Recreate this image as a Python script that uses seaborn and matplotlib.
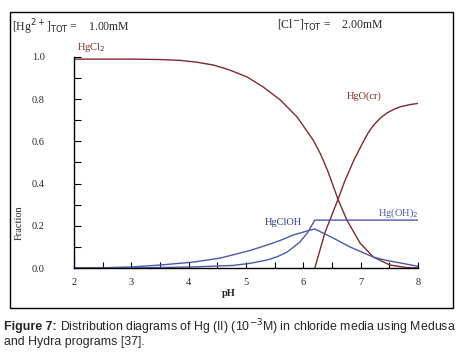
import matplotlib
matplotlib.use("Agg")
import matplotlib.pyplot as plt
import matplotlib.patches as mpatches
from matplotlib.ticker import MultipleLocator
import seaborn as sns
import pandas as pd

# ---- data ----
ph_hgcl2 = [2.0, 3.0, 3.5, 3.85, 4.15, 4.43, 4.72, 5.02, 5.30, 5.60, 5.89, 6.17, 6.30, 6.42, 6.61, 6.76, 6.99, 7.22, 7.51, 7.81, 8.0]
fr_hgcl2 = [0.99, 0.99, 0.988, 0.984, 0.975, 0.962, 0.938, 0.905, 0.858, 0.796, 0.716, 0.607, 0.54, 0.464, 0.322, 0.227, 0.118, 0.052, 0.014, 0.002, 0.0]

ph_hgo = [6.2, 6.38, 6.6, 6.72, 6.88, 7.03, 7.13, 7.22, 7.34, 7.46, 7.58, 7.69, 7.85, 8.0]
fr_hgo = [0.0, 0.17, 0.322, 0.41, 0.51, 0.59, 0.64, 0.675, 0.71, 0.735, 0.752, 0.764, 0.774, 0.78]

ph_hgcloh = [2.0, 2.5, 3.0, 3.5, 4.08, 4.55, 4.77, 5.07, 5.37, 5.60, 5.82, 6.02, 6.2, 6.52, 6.82, 7.22, 7.45, 7.69, 8.0]
fr_hgcloh = [0.0, 0.001, 0.005, 0.014, 0.028, 0.047, 0.062, 0.083, 0.109, 0.131, 0.156, 0.172, 0.185, 0.142, 0.099, 0.052, 0.036, 0.024, 0.008]

ph_hgoh2 = [2.0, 3.0, 4.08, 4.55, 4.77, 5.07, 5.37, 5.55, 5.72, 5.94, 6.08, 6.2, 8.0]
fr_hgoh2 = [0.0, 0.0, 0.005, 0.01, 0.012, 0.022, 0.038, 0.054, 0.076, 0.123, 0.17, 0.227, 0.227]

x_ticks = [2, 3, 4, 5, 6, 7, 8]
y_ticks = [0.0, 0.2, 0.4, 0.6, 0.8, 1.0]
y_ticklabels = ["0.0", "0.2", "0.4", "0.6", "0.8", "1.0"]

RED = "#7e2a2e"
BLUE = "#4a5ba6"

sns.set_style("ticks")
plt.rcParams["font.family"] = ["Liberation Serif", "DejaVu Serif"]

fig = plt.figure(figsize=(4.64, 3.58), dpi=100)
ax = fig.add_axes([74 / 464, 1 - 268 / 358, (418 - 74) / 464, (268 - 57) / 358])

series = [
    (ph_hgcl2, fr_hgcl2, RED),
    (ph_hgo, fr_hgo, RED),
    (ph_hgcloh, fr_hgcloh, BLUE),
    (ph_hgoh2, fr_hgoh2, BLUE),
]
for xs, ys, c in series:
    df = pd.DataFrame({"pH": xs, "Fraction": ys})
    sns.lineplot(data=df, x="pH", y="Fraction", ax=ax, color=c, lw=1.0,
                 sort=False, estimator=None)

ax.set_xlim(2, 8)
ax.set_ylim(0, 1.0)
sns.despine(ax=ax)
for s in ["left", "bottom"]:
    ax.spines[s].set_linewidth(1.0)
    ax.spines[s].set_color("black")

ax.set_xticks(x_ticks)
ax.set_xticklabels([str(v) for v in x_ticks])
ax.xaxis.set_minor_locator(MultipleLocator(0.5))
ax.set_yticks(y_ticks)
ax.set_yticklabels(y_ticklabels)
ax.yaxis.set_minor_locator(MultipleLocator(0.1))
ax.tick_params(axis="both", which="both", direction="in", length=4, width=0.8, color="black")
ax.tick_params(axis="y", which="both", length=5)
ax.tick_params(axis="y", which="major", pad=21, labelsize=7.5)
ax.tick_params(axis="x", which="major", pad=7, labelsize=7.5)
ax.set_xlabel("")
ax.set_ylabel("")

# species labels
ax.text(2.05, 1.012, "HgCl$_2$", color=RED, fontsize=7.5, ha="left", va="bottom")
ax.text(7.06, 0.815, "HgO(cr)", color=RED, fontsize=7.5, ha="center", va="center")
ax.text(5.65, 0.218, "HgClOH", color="#2e3a80", fontsize=7.5, ha="center", va="center")
ax.text(7.65, 0.258, "Hg(OH)$_2$", color=BLUE, fontsize=7.5, ha="center", va="center")

# axis titles and header
fig.text(229 / 464, 1 - 294 / 358, "pH", fontsize=7.5, fontweight="bold", ha="center", va="center")
fig.text(19 / 464, 1 - 223 / 358, "Fraction", fontsize=7.5, rotation=90, ha="center", va="center")
fig.text(12 / 464, 1 - 27 / 358, "[Hg$^{2+}$]$_{\\rm TOT}$ =    1.00mM", fontsize=8.5, ha="left", va="center")
fig.text(277 / 464, 1 - 25 / 358, "[Cl$^{-}$]$_{\\rm TOT}$ =    2.00mM", fontsize=8.5, ha="left", va="center")

# outer frame
fig.patches.append(mpatches.Rectangle((10 / 464, 1 - 308 / 358), 443 / 464, 296 / 358,
                                      transform=fig.transFigure, fill=False,
                                      edgecolor="black", lw=1.0))

# caption, fitted to the reference width (x 4..460 px)
cap_font = ["Liberation Sans", "DejaVu Sans"]
line1_bold = "Figure 7:"
line1_rest = "Distribution diagrams of Hg (II) (10$^{-3}$M) in chloride media using Medusa"
line2 = "and Hydra programs [37]."

fs = 10.0
renderer = fig.canvas.get_renderer()
for _ in range(3):
    ta = fig.text(0, 0, line1_bold, fontsize=fs, fontweight="bold", family=cap_font)
    tb = fig.text(0, 0, line1_rest, fontsize=fs, family=cap_font)
    w = ta.get_window_extent(renderer).width + 3 + tb.get_window_extent(renderer).width
    ta.remove(); tb.remove()
    fs = fs * 455 / w

t1 = fig.text(4 / 464, 1 - 327 / 358, line1_bold, fontsize=fs, fontweight="bold",
              family=cap_font, ha="left", va="center")
bb = t1.get_window_extent(renderer)
fig.text((bb.x1 + 3) / 464, 1 - 327 / 358, line1_rest, fontsize=fs, family=cap_font,
         ha="left", va="center")
fig.text(4 / 464, 1 - 342 / 358, line2, fontsize=fs, family=cap_font, ha="left", va="center")

fig.savefig("out.png", dpi=100)
